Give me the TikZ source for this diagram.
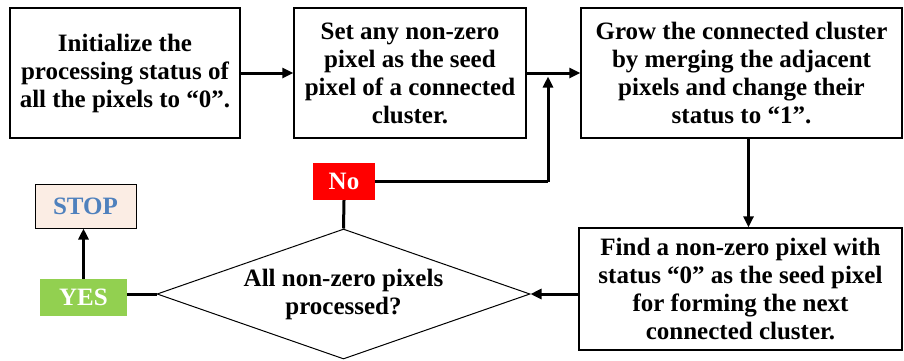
\documentclass[tikz,border=0pt]{standalone}
\usepackage{fontspec}
\setmainfont{Liberation Serif}
\usetikzlibrary{shapes.geometric,arrows.meta}
\definecolor{nored}{HTML}{FF0000}
\definecolor{yesgreen}{HTML}{92D050}
\definecolor{stoppeach}{HTML}{FBEDE4}
\definecolor{stopblue}{HTML}{4F81BD}
\tikzset{
  txt/.style={font=\fontsize{25}{28}\selectfont\bfseries, align=center},
  stepbox/.style={txt, draw, line width=1.3pt, inner sep=0pt},
  decision/.style={txt, draw, diamond, line width=1pt, inner sep=0pt, aspect=2.87},
  tag/.style={txt, text=white, inner sep=0pt},
  flow/.style={line width=3pt, -{Triangle[length=11pt,width=10pt]}},
  link/.style={line width=3pt}
}
\begin{document}
\begin{tikzpicture}[x=1pt,y=-1pt]
\useasboundingbox (0,0) rectangle (904,360);
\node[stepbox, minimum width=230, minimum height=130] (init) at (125,73) {Initialize the\\processing status of\\all the pixels to “0”.};
\node[stepbox, minimum width=232, minimum height=130] (seed) at (410,73) {Set any non-zero\\pixel as the seed\\pixel of a connected\\cluster.};
\node[stepbox, minimum width=321, minimum height=130] (grow) at (741.5,73) {Grow the connected cluster\\by merging the adjacent\\pixels and change their\\status to “1”.};
\node[stepbox, minimum width=323, minimum height=122] (find) at (740.5,289) {Find a non-zero pixel with\\status “0” as the seed pixel\\for forming the next\\connected cluster.};
\node[decision, minimum width=373, minimum height=130] (check) at (343.5,294) {All non-zero pixels\\processed?};
\node[tag, fill=nored, minimum width=62, minimum height=37] (no) at (344,181.5) {No};
\node[tag, fill=yesgreen, minimum width=87, minimum height=37] (yes) at (83.5,297.5) {YES};
\node[stepbox, text=stopblue, fill=stoppeach, line width=1pt, minimum width=101, minimum height=44] (stop) at (85.5,206) {STOP};
\coordinate (join) at (548,75);
\draw[flow] (init) -- (seed);
\draw[flow] (seed) -- (grow);
\draw[flow] ([xshift=7pt]grow.south) -- ([xshift=7pt]grow.south |- find.north);
\draw[flow] (check.east -| find.west) -- (check.east);
\draw[link] (check.north) -- (no.south);
\draw[link] (no.east) -- (no.east -| join);
\draw[flow, shorten >=1.5pt] (no.east -| join) -- (join);
\draw[link] (check.west) -- (check.west -| yes.east);
\draw[flow] (yes.north) -- (yes.north |- stop.south);
\end{tikzpicture}
\end{document}
